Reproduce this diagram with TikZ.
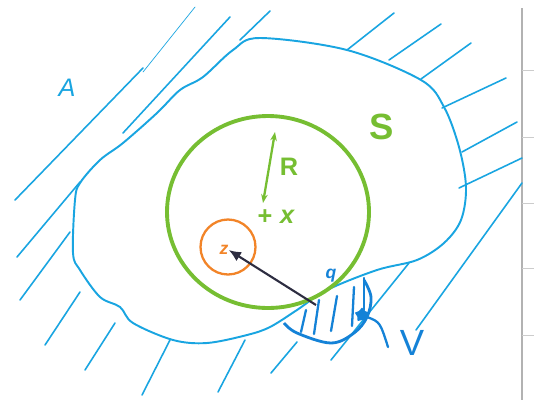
\documentclass[tikz,border=0pt]{standalone}
\usepackage{fontspec}
\setmainfont{Liberation Sans}
\usetikzlibrary{arrows.meta,positioning,shapes.geometric}
\definecolor{skblue}{RGB}{25,165,225}
\definecolor{skdeep}{RGB}{20,130,215}
\definecolor{skgreen}{RGB}{118,190,50}
\definecolor{skorange}{RGB}{242,132,40}
\definecolor{skdark}{RGB}{45,45,65}

\begin{document}
\begin{tikzpicture}[
    x=0.02cm, y=-0.02cm,
    hatch/.style={skblue, line width=0.9pt, line cap=round},
    rim/.style={skblue, line width=1.1pt},
    lbl/.style={inner sep=1pt, font=\Large},
    arrow/.style={-{Latex[length=7pt,width=6pt]}, skdark, line width=1.2pt}
  ]
    \useasboundingbox (0,0) rectangle (534,400);
    \fill[white] (0,0) rectangle (534,400);

    % paper edge
    \draw[black!30, line width=0.6pt] (522,8) -- (522,400);
    \foreach \yy in {70,137,203,268,335}
      \draw[black!20, line width=0.5pt] (522,\yy) -- (534,\yy);

    % Region A
    \draw[rim] plot[smooth cycle, tension=0.55] coordinates {
      (75,200) (80,183) (100,160) (123,143) (157,113) (180,90) (203,77)
      (233,50) (260,38) (347,50) (421,80) (444,107) (459,147) (466,187)
      (461,220) (444,243) (417,260) (377,270) (327,290) (297,310)
      (270,327) (247,335) (207,343) (173,340) (133,323) (120,307)
      (100,297) (80,270) (73,253)};

    % Hatching outside
    \draw[hatch] (15,200) -- (143,68);
    \draw[hatch, line width=0.4pt] (143,72) -- (195,7);
    \draw[hatch] (123,133) -- (230,17);
    \draw[hatch] (240,40) -- (270,11);
    \draw[hatch] (17,257) -- (80,182);
    \draw[hatch] (20,300) -- (70,232);
    \draw[hatch] (45,345) -- (80,292);
    \draw[hatch] (85,370) -- (115,323);
    \draw[hatch] (142,395) -- (170,340);
    \draw[hatch] (218,392) -- (245,340);
    \draw[hatch] (271,373) -- (297,342);
    \draw[hatch] (331,360) -- (409,263);
    \draw[hatch] (416,330) -- (522,183);
    \draw[hatch] (347,50) -- (394,13);
    \draw[hatch] (389,60) -- (441,24);
    \draw[hatch] (421,79) -- (471,43);
    \draw[hatch] (442,108) -- (506,78);
    \draw[hatch] (462,152) -- (517,122);
    \draw[hatch] (459,188) -- (522,158);
    \node[lbl, text=skblue] (A) at (67,88) {\textit{A}};

    % Half disc V
    \draw[skdeep, line width=1.6pt] plot[smooth, tension=0.6] coordinates {
      (284,323) (297,333) (331,343) (354,333) (367,317) (371,297) (364,280)};
    \foreach \xa/\ya/\xb/\yb in {301/332/306/310, 314/334/319/300,
        331/331/337/296, 352/326/354/287, 364/310/364/278}
      \draw[skdeep, line width=1.3pt, line cap=round] (\xa,\ya) -- (\xb,\yb);
    \node[star, star points=5, fill=skdeep, inner sep=0pt, minimum size=0.3cm] (vpt) at (362,315) {};
    \node[lbl, text=skdeep, font=\huge] (V) at (412,343) {V};
    \coordinate (vend) at (388,347);
    \draw[skdeep, line width=1.3pt, line cap=round] (vpt) .. controls (380,322) .. (vend);

    % Sphere S
    \draw[skgreen, line width=2.2pt] (268,212) ellipse (101 and 96);
    \node[lbl, text=skgreen, font=\huge\bfseries] (S) at (382,127) {S};
    \coordinate (c) at (265,217);
    \node[text=skgreen, font=\Large\bfseries, inner sep=0pt] (cross) at (c) {+};
    \node[lbl, text=skgreen, font=\Large\bfseries, right=3pt of cross] (x) {\textit{x}};
    \coordinate (rtop) at (275,132);
    \coordinate (rbot) at (263,203);
    \draw[skgreen, line width=1.3pt, {Stealth[length=5pt]}-{Stealth[length=5pt]}] (rbot) -- (rtop);
    \node[lbl, text=skgreen, font=\Large\bfseries] (R) at (289,167) {R};

    % Point z
    \node[circle, draw=skorange, line width=1.3pt, minimum size=1.1cm, inner sep=0pt] (zc) at (228,247) {};
    \node[text=skorange, font=\bfseries, inner sep=0pt] (z) at (224,250) {\textit{z}};

    % Point q and the arrow
    \coordinate (q) at (316,305);
    \node[text=skdeep, font=\bfseries, inner sep=0pt] (qlbl) at (331,276) {\textit{q}};
    \draw[arrow] (q) -- (z.east);
  \end{tikzpicture}
\end{document}
